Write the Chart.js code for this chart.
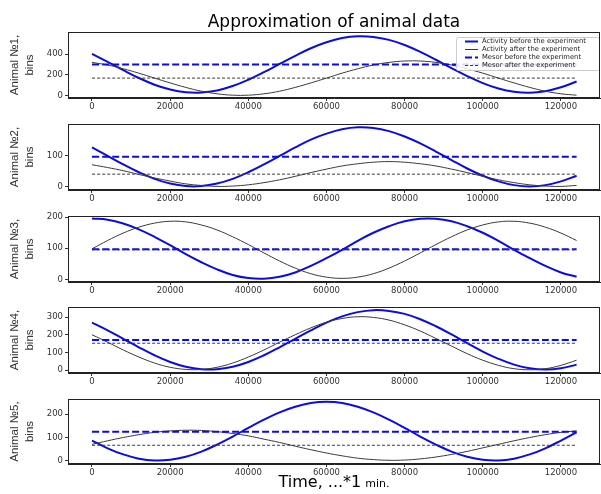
<!DOCTYPE html>
<html>
<head>
<meta charset="utf-8">
<script src="https://cdn.jsdelivr.net/npm/chart.js@4.4.1/dist/chart.umd.min.js"></script>
<style>
  html, body { margin: 0; padding: 0; background: #fff; overflow: hidden; }
  #wrap { position: relative; width: 601px; height: 494px; }
  #wrap canvas { position: absolute; left: 0; }
</style>
</head>
<body>
<div id="wrap">
  <canvas id="p1"></canvas>
  <canvas id="p2"></canvas>
  <canvas id="p3"></canvas>
  <canvas id="p4"></canvas>
  <canvas id="p5"></canvas>
</div>
<script>
// Datos
const timeMin = [0, 4000, 8000, 12000, 16000, 20000, 24000, 28000, 32000, 36000, 40000, 44000,
    48000, 52000, 56000, 60000, 64000, 68000, 72000, 76000, 80000, 84000, 88000, 92000,
    96000, 100000, 104000, 108000, 112000, 116000, 120000, 124000];
const xTicks = [0, 20000, 40000, 60000, 80000, 100000, 120000];

const before1 = [402, 325, 246, 171, 107, 61, 35, 32, 52, 94, 154, 226, 305, 383, 455, 512, 552, 569, 563, 535, 486, 420, 345, 265, 189, 122, 70, 39, 30, 45, 82, 137];
const after1  = [320, 295, 259, 217, 170, 124, 81, 45, 20, 7, 7, 20, 45, 81, 124, 170, 217, 259, 295, 320, 333, 333, 320, 295, 259, 217, 170, 124, 81, 45, 20, 7];
const before2 = [125, 98, 71, 46, 25, 10, 2, 2, 10, 25, 46, 71, 98, 125, 150, 169, 183, 189, 187, 177, 160, 138, 112, 85, 58, 35, 17, 5, 1, 5, 17, 35];
const after2  = [70, 61, 51, 39, 28, 18, 9, 4, 1, 2, 6, 13, 22, 33, 45, 56, 66, 73, 78, 80, 78, 73, 66, 56, 45, 33, 22, 13, 6, 2, 1, 4];
const before3 = [196, 192, 180, 161, 137, 110, 81, 55, 32, 14, 4, 2, 8, 22, 43, 68, 95, 124, 150, 171, 187, 195, 195, 187, 171, 150, 124, 95, 68, 43, 22, 8];
const after3  = [98, 125, 149, 168, 181, 187, 185, 175, 159, 137, 112, 85, 59, 36, 18, 7, 3, 7, 18, 36, 59, 85, 112, 137, 159, 175, 185, 187, 181, 168, 149, 125];
const before4 = [270, 226, 178, 130, 85, 47, 20, 6, 6, 20, 47, 85, 130, 178, 226, 270, 305, 329, 340, 336, 319, 289, 249, 203, 154, 106, 65, 32, 11, 4, 11, 32];
const after4  = [201, 159, 115, 75, 41, 17, 5, 5, 17, 41, 75, 115, 159, 201, 240, 272, 293, 303, 299, 284, 257, 222, 180, 137, 94, 57, 28, 9, 3, 9, 28, 57];
const before5 = [87, 54, 28, 10, 2, 5, 18, 40, 70, 104, 141, 176, 207, 231, 247, 252, 247, 231, 207, 176, 141, 104, 70, 40, 18, 5, 2, 10, 28, 54, 87, 122];
const after5  = [71, 86, 100, 112, 122, 128, 131, 130, 125, 117, 107, 93, 79, 63, 48, 34, 22, 12, 6, 3, 4, 9, 17, 28, 41, 56, 71, 86, 100, 112, 122, 128];

const mesorBefore = [300, 95, 97, 172, 125];
const mesorAfter  = [170, 40, 95, 153, 67];

const yTicks1 = [0, 200, 400];
const yTicks2 = [0, 100];
const yTicks3 = [0, 100, 200];
const yTicks4 = [0, 100, 200, 300];
const yTicks5 = [0, 100, 200];

const animalNames = ['Animal №1,', 'Animal №2,', 'Animal №3,', 'Animal №4,', 'Animal №5,'];
const unitLabel = 'bins';
const seriesLabels = ['Activity before the experiment', 'Activity after the experiment',
    'Mesor before the experiment', 'Mesor after the experiment'];
const chartTitle = 'Approximation of animal data';
const xTitleMain = 'Time, ...*1';
const xTitleUnit = 'min.';

const beforeSeries = [before1, before2, before3, before4, before5];
const afterSeries = [after1, after2, after3, after4, after5];
const yTickSets = [yTicks1, yTicks2, yTicks3, yTicks4, yTicks5];

// Posición de cada panel (px) y rango del eje y
const panelBoxes = [
    { top: 32,  bottom: 98,  ymin: -20,  ymax: 610 },
    { top: 124, bottom: 190, ymin: -10.5, ymax: 199.7 },
    { top: 216, bottom: 282, ymin: -8.7, ymax: 204 },
    { top: 307, bottom: 373, ymin: -15.3, ymax: 358 },
    { top: 399, bottom: 464, ymin: -12.8, ymax: 264 }
];

const BLUE = '#0c0ce0';
const DARK = '#3a3a3a';
const TICK_FONT = { family: 'DejaVu Sans', size: 8.5 };

// Marco completo alrededor del área del gráfico
const framePlugin = {
    id: 'frame',
    afterDraw(chart) {
        const { ctx, chartArea: a } = chart;
        ctx.save();
        ctx.strokeStyle = '#222';
        ctx.lineWidth = 1;
        ctx.strokeRect(Math.round(a.left) + 0.5, Math.round(a.top) + 0.5,
            Math.round(a.right - a.left) - 1, Math.round(a.bottom - a.top) - 1);
        ctx.restore();
    }
};

// Leyenda dentro del primer panel (arriba a la derecha)
const legendPlugin = {
    id: 'innerLegend',
    afterDatasetsDraw(chart) {
        const ctx = chart.ctx;
        const x0 = 456, y0 = chart.chartArea.top + 5, w = 143, h = 33;
        ctx.save();
        ctx.fillStyle = 'rgba(255,255,255,0.85)';
        ctx.strokeStyle = '#cccccc';
        ctx.lineWidth = 1;
        ctx.beginPath();
        ctx.roundRect(x0 + 0.5, y0 + 0.5, w, h, 2);
        ctx.fill();
        ctx.stroke();
        ctx.font = '6.8px "DejaVu Sans"';
        ctx.textBaseline = 'middle';
        chart.data.datasets.forEach((ds, i) => {
            const y = y0 + 4.5 + i * 8;
            ctx.strokeStyle = ds.borderColor;
            ctx.lineWidth = ds.borderWidth;
            ctx.setLineDash(ds.borderDash || []);
            ctx.beginPath();
            ctx.moveTo(x0 + 9, y);
            ctx.lineTo(x0 + 22, y);
            ctx.stroke();
            ctx.setLineDash([]);
            ctx.fillStyle = '#222';
            ctx.fillText(ds.label, x0 + 26, y);
        });
        ctx.restore();
    }
};

// Título del eje x con dos tamaños de letra
const xTitlePlugin = {
    id: 'xTitle',
    afterDraw(chart) {
        const ctx = chart.ctx;
        const baseY = chart.chartArea.bottom + 23;
        ctx.save();
        ctx.fillStyle = '#000';
        ctx.textBaseline = 'alphabetic';
        ctx.font = '16px "DejaVu Sans"';
        const wMain = ctx.measureText(xTitleMain).width;
        ctx.font = '11px "DejaVu Sans"';
        const wUnit = ctx.measureText(xTitleUnit).width;
        const start = 334 - (wMain + 4 + wUnit) / 2;
        ctx.font = '16px "DejaVu Sans"';
        ctx.fillText(xTitleMain, start, baseY);
        ctx.font = '11px "DejaVu Sans"';
        ctx.fillText(xTitleUnit, start + wMain + 4, baseY);
        ctx.restore();
    }
};

function crearPanel(idx) {
    const box = panelBoxes[idx];
    const first = idx === 0;
    const last = idx === 4;
    const padTop = first ? 0 : 8;
    const canvasTop = first ? 0 : box.top - padTop;
    const extraBottom = last ? 30 : 0;
    const xAxisH = 18;
    const canvas = document.getElementById('p' + (idx + 1));
    canvas.width = 601;
    canvas.height = box.bottom - canvasTop + xAxisH + extraBottom;
    canvas.style.top = canvasTop + 'px';

    const lastT = timeMin[timeMin.length - 1];
    const datasets = [
        {
            label: seriesLabels[0],
            data: timeMin.map((t, i) => ({ x: t, y: beforeSeries[idx][i] })),
            borderColor: BLUE, borderWidth: 2, order: 3
        },
        {
            label: seriesLabels[1],
            data: timeMin.map((t, i) => ({ x: t, y: afterSeries[idx][i] })),
            borderColor: DARK, borderWidth: 1, order: 2
        },
        {
            label: seriesLabels[2],
            data: [{ x: timeMin[0], y: mesorBefore[idx] }, { x: lastT, y: mesorBefore[idx] }],
            borderColor: BLUE, borderWidth: 2, borderDash: [7, 3], order: 1
        },
        {
            label: seriesLabels[3],
            data: [{ x: timeMin[0], y: mesorAfter[idx] }, { x: lastT, y: mesorAfter[idx] }],
            borderColor: DARK, borderWidth: 1, borderDash: [3, 2], order: 0
        }
    ];
    datasets.forEach(ds => {
        ds.pointRadius = 0;
        ds.tension = 0.4;
        ds.fill = false;
    });

    const plugins = [framePlugin];
    if (first) plugins.push(legendPlugin);
    if (last) plugins.push(xTitlePlugin);

    new Chart(canvas, {
        type: 'line',
        data: { datasets: datasets },
        plugins: plugins,
        options: {
            responsive: false,
            animation: false,
            layout: { padding: { top: padTop, right: 1, left: 0, bottom: extraBottom } },
            plugins: {
                legend: { display: false },
                tooltip: { enabled: false },
                title: {
                    display: first,
                    text: chartTitle,
                    fullSize: false,
                    color: '#000',
                    font: { family: 'DejaVu Sans', size: 17, weight: 'normal', lineHeight: 1.1 },
                    padding: { top: 13, bottom: box.top - 13 - 17 * 1.1 }
                }
            },
            scales: {
                x: {
                    type: 'linear',
                    min: -6140,
                    max: 129990,
                    afterBuildTicks: s => { s.ticks = xTicks.map(v => ({ value: v })); },
                    afterFit: s => { s.height = xAxisH; },
                    ticks: {
                        autoSkip: false, maxRotation: 0, padding: 1,
                        color: '#333', font: TICK_FONT,
                        callback: v => String(v)
                    },
                    grid: { drawOnChartArea: false, drawTicks: true, tickLength: 3, color: '#333' },
                    border: { display: true, color: '#222' }
                },
                y: {
                    type: 'linear',
                    min: box.ymin,
                    max: box.ymax,
                    afterBuildTicks: s => { s.ticks = yTickSets[idx].map(v => ({ value: v })); },
                    afterFit: s => { s.width = 68; },
                    ticks: {
                        padding: 2, color: '#333', font: TICK_FONT,
                        callback: v => String(v)
                    },
                    grid: { drawOnChartArea: false, drawTicks: true, tickLength: 3, color: '#333' },
                    border: { display: true, color: '#222' },
                    title: {
                        display: true,
                        text: [animalNames[idx], unitLabel],
                        color: '#333',
                        font: { family: '"Liberation Sans", Arial, sans-serif', size: 11.5, lineHeight: 1.35 },
                        padding: { top: 6.8, bottom: 0 }
                    }
                }
            }
        }
    });
}

document.addEventListener('DOMContentLoaded', function() {
    for (let i = 0; i < 5; i++) crearPanel(i);
});
</script>
</body>
</html>
